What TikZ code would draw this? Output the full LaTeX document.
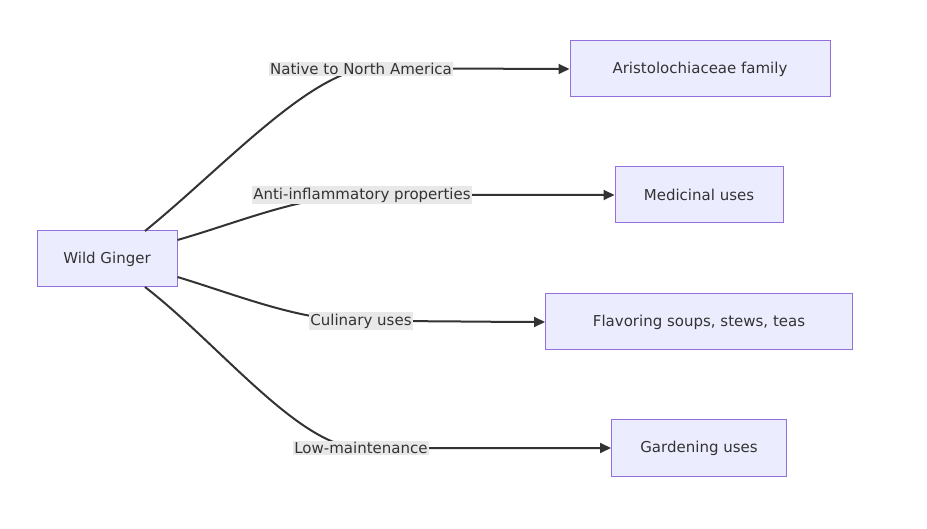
\documentclass[tikz,border=0pt]{standalone}
\usepackage{fontspec}
\setmainfont{DejaVu Sans}
\usetikzlibrary{arrows.meta}
\definecolor{nfill}{HTML}{ECECFF}
\definecolor{nline}{HTML}{9370DB}
\definecolor{eline}{HTML}{333333}
\definecolor{lbg}{HTML}{E8E8E8}
\begin{document}
\begin{tikzpicture}[x=1pt,y=-1pt,
  box/.style={draw=nline,fill=nfill,line width=1pt,minimum height=56pt,inner xsep=11pt,font=\fontsize{15}{18}\selectfont,text=eline},
  lab/.style={fill=lbg,inner sep=1.5pt,font=\fontsize{15}{18}\selectfont,text=eline},
  edge/.style={draw=eline,line width=2pt,-{Triangle[length=11pt,width=10pt]}}]
\useasboundingbox (0,0) rectangle (927,529);
\node[box,minimum width=140pt] (wg) at (107,259) {Wild Ginger};
\node[box,minimum width=260pt] (ar) at (700,69) {Aristolochiaceae family};
\node[box,minimum width=168pt] (me) at (699,195) {Medicinal uses};
\node[box,minimum width=307pt] (fl) at (699,322) {Flavoring soups, stews, teas};
\node[box,minimum width=175pt] (ga) at (699,448) {Gardening uses};
\coordinate (l1) at (361,69);
\coordinate (l2) at (362,195);
\coordinate (l3) at (361,321);
\coordinate (l4) at (361,448);
\draw[edge] (145,231) .. controls (220,170) and (300,82) .. (l1) .. controls (440,68) and (520,69) .. (ar.west);
\draw[edge] (wg.east |- 240,240) .. controls (240,222) and (300,196) .. (l2) -- (me.west);
\draw[edge] (wg.east |- 277,277) .. controls (240,296) and (300,321) .. (l3) .. controls (430,321) and (500,322) .. (fl.west);
\draw[edge] (145,287) .. controls (220,345) and (300,448) .. (l4) .. controls (440,448) and (540,448) .. (ga.west);
\node[lab] (t1) at (l1) {Native to North America};
\node[lab] (t2) at (l2) {Anti-inflammatory properties};
\node[lab] (t3) at (l3) {Culinary uses};
\node[lab] (t4) at (l4) {Low-maintenance};
\end{tikzpicture}
\end{document}
